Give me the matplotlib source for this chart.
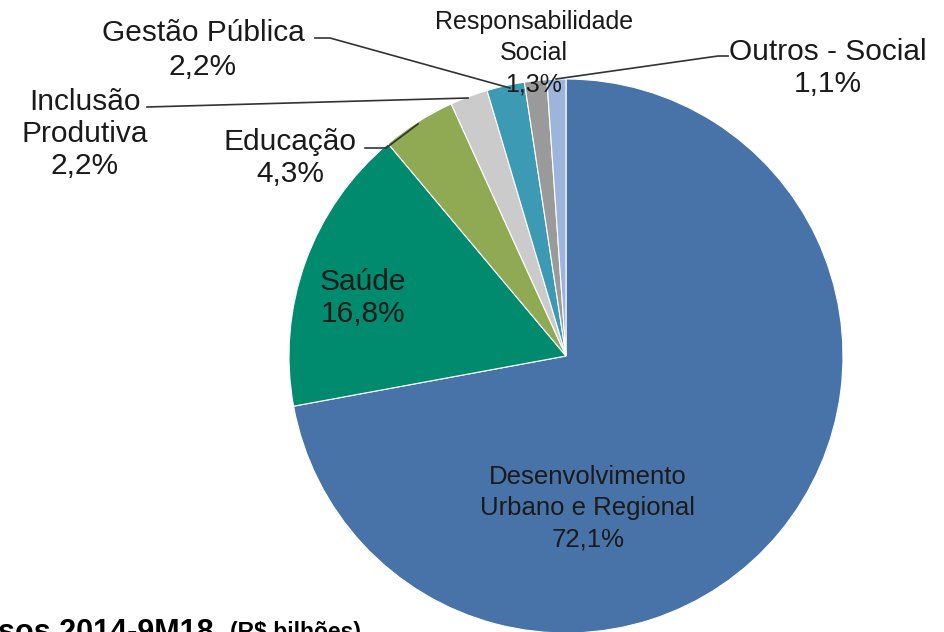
import matplotlib
matplotlib.use("Agg")
import matplotlib.pyplot as plt

# Distribution of disbursements by sector (share of total, %)
categories = [
    "Desenvolvimento\nUrbano e Regional",
    "Saúde",
    "Educação",
    "Inclusão\nProdutiva",
    "Gestão Pública",
    "Responsabilidade\nSocial",
    "Outros - Social",
]
shares = [72.1, 16.8, 4.3, 2.2, 2.2, 1.3, 1.1]
colors = ["#4873a9", "#008b6f", "#8faa52", "#cbcbcb", "#3d9ab4", "#9a9a9a", "#9db5dd"]

W, H = 945, 632
fig = plt.figure(figsize=(W / 100, H / 100), dpi=100)
ax = fig.add_axes([0, 0, 1, 1])

plt.rcParams["font.family"] = ["Liberation Sans", "DejaVu Sans"]

cx, cy, r = 566, H - 356, 277
ax.pie(shares, colors=colors, startangle=90, counterclock=False,
       center=(cx, cy), radius=r,
       wedgeprops=dict(edgecolor="white", linewidth=0.8))
ax.set_xlim(0, W)
ax.set_ylim(0, H)
ax.set_aspect("equal")
ax.axis("off")


def fmt(name, v):
    return f"{name}\n{v:.1f}%".replace(".", ",")


def Y(y):
    return H - y

txt_col = "#1a1a1a"
# label anchor points (x, y from top), font size and line spacing
label_pos = [
    (588, 508, 18.5, 1.39),
    (363, 298, 21.5, 1.22),
    (290, 158, 21.5, 1.22),
    (85, 134, 21.5, 1.18),
    (203, 50, 21.5, 1.24),
    (534, 53, 18.0, 1.37),
    (828, 68, 21.5, 1.22),
]
for name, v, (x, y, fs, ls) in zip(categories, shares, label_pos):
    ax.text(x, Y(y), fmt(name, v), ha="center", va="center", fontsize=fs,
            color=txt_col, linespacing=ls)

# leader lines
lc = "#333333"
lw = 1.2
ax.plot([315, 330, 510], [Y(38), Y(38), Y(88)], color=lc, lw=lw)          # Gestão Pública
ax.plot([147, 468], [Y(107), Y(98)], color=lc, lw=lw)                     # Inclusão Produtiva
ax.plot([365, 386, 418], [Y(148), Y(148), Y(124)], color=lc, lw=lw)      # Educação
ax.plot([556, 718, 728], [Y(79), Y(56), Y(56)], color=lc, lw=lw)          # Outros - Social

# caption at the bottom edge
ax.text(-2, Y(641), "sos 2014-9M18", ha="left", va="baseline", fontsize=22,
        fontweight="bold", color="black")
ax.text(230, Y(639), "(R$ bilhões)", ha="left", va="baseline", fontsize=16.5,
        fontweight="bold", color="black")

fig.savefig("out.png", dpi=100)
